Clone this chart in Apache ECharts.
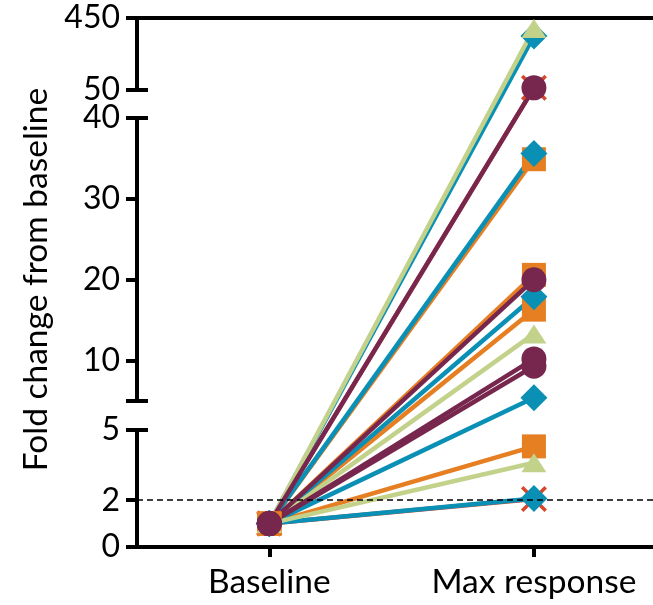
<!DOCTYPE html>
<html><head><meta charset="utf-8">
<script src="https://cdn.jsdelivr.net/npm/echarts@6/dist/echarts.min.js"></script>
<style>html,body{margin:0;padding:0;background:#fff}#c{width:653px;height:605px}</style>
</head><body><div id="c"></div>
<script>
// ---- data ----
const categories = ['Baseline', 'Max response'];
const baselineFold = 1;
const redMax = [62, 2.05];
const orangeMax = [34.9, 20.6, 16.3, 4.3];
const blueMax = [350, 35.6, 17.9, 5.4, 2.07];
const greenMax = [392, 13.3, 3.6];
const maroonMax = [62, 20, 10.2, 9.3];
const lowTicks = [0, 2, 5];
const midTicks = [10, 20, 30, 40];
const highTicks = [50, 450];
const thresholdValue = 2;

// ---- layout (segments of the broken axis) ----
const FONT = 'Lato';
const BOTTOM = 58, LEFT = 137, RIGHT = 0;
const X_MIN = -0.5, X_MAX = 1.45;
const segs = [
  {min: 0, max: 5, bottom: 58, height: 117},
  {min: 5, max: 40, bottom: 204, height: 283},
  {min: 50, max: 450, bottom: 515, height: 72}
];
const TOTAL = segs[2].bottom + segs[2].height - BOTTOM;

function t(v) {
  let s = segs[0];
  for (const g of segs) { if (v >= g.min) s = g; }
  const vv = Math.min(v, s.max);
  return (s.bottom - BOTTOM) + (vv - s.min) / (s.max - s.min) * s.height;
}

const catIdx = categories.map((c, i) => i);
const xPath = 'path://M2.5,0 L13,10.5 L23.5,0 L26,2.5 L15.5,13 L26,23.5 L23.5,26 L13,15.5 L2.5,26 L0,23.5 L10.5,13 L0,2.5 Z';
const groups = [
  {values: redMax, color: '#D9472B', symbol: xPath, size: 26},
  {values: orangeMax, color: '#E67E22', symbol: 'rect', size: 24},
  {values: blueMax, color: '#0A8FB5', symbol: 'diamond', size: [27, 27]},
  {values: greenMax, color: '#C3D28B', symbol: 'triangle', size: [25, 19]},
  {values: maroonMax, color: '#77274D', symbol: 'circle', size: 25}
];

const axisLineStyle = {color: '#000', width: 4};
const yLabelStyle = {color: '#000', fontSize: 32, fontFamily: FONT};
const xLabelStyle = {color: '#000', fontSize: 33.5, fontFamily: FONT};

const grids = segs.map(s => ({left: LEFT, right: RIGHT, bottom: s.bottom, height: s.height, outerBoundsMode: 'none', containLabel: false}));
grids.push({left: LEFT, right: RIGHT, bottom: BOTTOM, height: TOTAL, outerBoundsMode: 'none', containLabel: false});

const hiddenX = gi => ({gridIndex: gi, type: 'value', min: X_MIN, max: X_MAX, show: false});
const xAxes = [
  {gridIndex: 0, type: 'value', min: X_MIN, max: X_MAX, position: 'bottom',
   axisLine: {show: true, onZero: false, lineStyle: axisLineStyle},
   axisTick: {show: true, length: 10, customValues: catIdx, lineStyle: {color: '#000', width: 4}},
   axisLabel: Object.assign({margin: 18, customValues: catIdx, formatter: v => categories[Math.round(v)] || ''}, xLabelStyle),
   splitLine: {show: false}},
  hiddenX(1),
  {gridIndex: 2, type: 'value', min: X_MIN, max: X_MAX, position: 'top',
   axisLine: {show: true, onZero: false, lineStyle: axisLineStyle},
   axisTick: {show: false}, axisLabel: {show: false}, splitLine: {show: false}},
  hiddenX(3)
];

function segAxes(gi, s, tickVals, labelVals, capVals) {
  return [
    {gridIndex: gi, type: 'value', min: s.min, max: s.max, position: 'left',
     axisLine: {show: true, onZero: false, lineStyle: axisLineStyle},
     axisTick: {show: true, length: 11, customValues: tickVals, lineStyle: {color: '#000', width: 4}},
     axisLabel: Object.assign({margin: 17, customValues: labelVals}, yLabelStyle),
     splitLine: {show: false}},
    {gridIndex: gi, type: 'value', min: s.min, max: s.max, position: 'left',
     axisLine: {show: false, onZero: false},
     axisTick: {show: true, inside: true, length: 11, customValues: capVals, lineStyle: {color: '#000', width: 4}},
     axisLabel: {show: false}, splitLine: {show: false}}
  ];
}

const yAxes = [].concat(
  segAxes(0, segs[0], lowTicks, lowTicks, [segs[0].max]),
  segAxes(1, segs[1], [segs[1].min].concat(midTicks), midTicks, [segs[1].min, segs[1].max]),
  segAxes(2, segs[2], highTicks, highTicks, [segs[2].min]),
  [{gridIndex: 3, type: 'value', min: 0, max: TOTAL, position: 'left',
    name: 'Fold change from baseline', nameLocation: 'middle', nameGap: 84,
    nameTextStyle: {color: '#000', fontSize: 33.5, fontFamily: FONT, padding: [0, 0, 0, 6]},
    axisLine: {show: false, onZero: false}, axisTick: {show: false}, axisLabel: {show: false}, splitLine: {show: false}}]
);

const series = [{
  type: 'line', xAxisIndex: 0, yAxisIndex: 0, data: [], silent: true, z: 1,
  markLine: {silent: true, symbol: 'none', label: {show: false},
    lineStyle: {color: '#000', width: 1.5, type: [6, 4]},
    data: [{yAxis: thresholdValue}]}
}];
groups.forEach(g => {
  g.values.forEach(v => {
    series.push({
      type: 'line', xAxisIndex: 3, yAxisIndex: 6, clip: false, z: 3,
      data: [[catIdx[0], t(baselineFold)], [catIdx[1], t(v)]],
      symbol: g.symbol, symbolSize: g.size, showSymbol: true,
      lineStyle: {color: g.color, width: 4.5},
      itemStyle: {color: g.color, opacity: 1},
      emphasis: {disabled: true}
    });
  });
});

const chart = echarts.init(document.getElementById('c'), null, {renderer: 'canvas'});
chart.setOption({
  animation: false,
  backgroundColor: '#fff',
  grid: grids, xAxis: xAxes, yAxis: yAxes, series: series
});
</script></body></html>
